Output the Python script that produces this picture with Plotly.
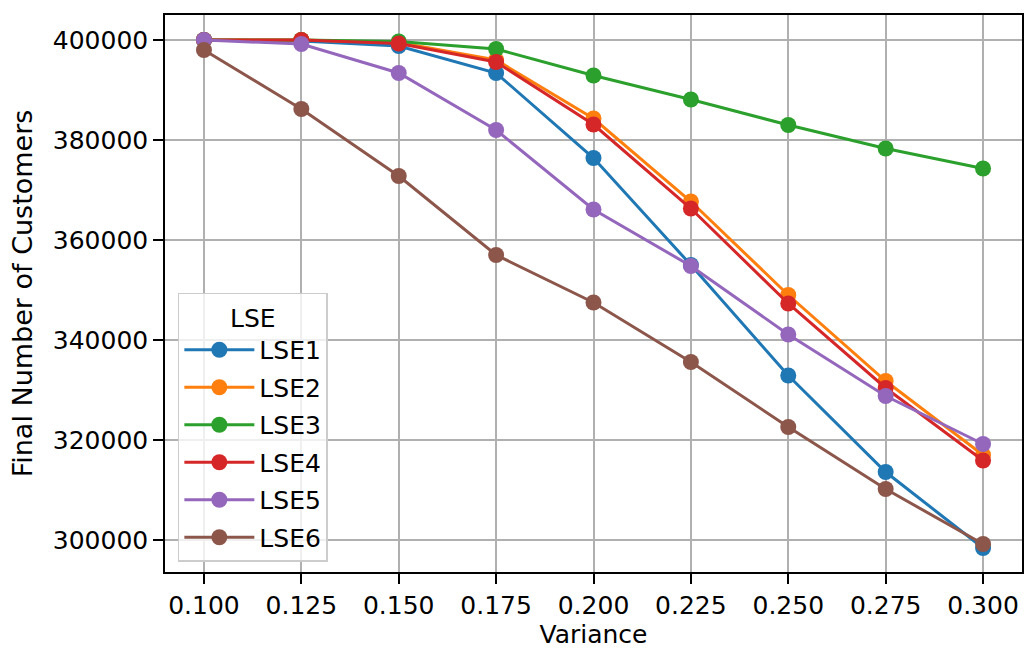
import plotly.graph_objects as go

variance = [0.100, 0.125, 0.150, 0.175, 0.200, 0.225, 0.250, 0.275, 0.300]

lse1 = [400000, 399800, 398800, 393400, 376400, 355000, 332900, 313600, 298400]
lse2 = [400000, 400000, 399500, 396000, 384300, 367700, 349000, 331800, 317000]
lse3 = [400000, 400000, 399700, 398200, 392900, 388100, 383000, 378300, 374300]
lse4 = [400000, 400000, 399300, 395600, 383100, 366300, 347300, 330400, 315900]
lse5 = [400000, 399200, 393400, 382000, 366100, 354800, 341100, 328800, 319200]
lse6 = [398000, 386200, 372800, 357000, 347500, 335600, 322600, 310200, 299200]

series = {
    "LSE1": (lse1, "#1f77b4"),
    "LSE2": (lse2, "#ff7f0e"),
    "LSE3": (lse3, "#2ca02c"),
    "LSE4": (lse4, "#d62728"),
    "LSE5": (lse5, "#9467bd"),
    "LSE6": (lse6, "#8c564b"),
}

fig = go.Figure()
for name, (vals, color) in series.items():
    fig.add_trace(go.Scatter(
        x=variance, y=vals, name=name, legendgroup=name, mode="lines+markers",
        line=dict(color=color, width=3),
        marker=dict(color=color, size=16),
    ))

font = "DejaVu Sans, sans-serif"
fs = 25
axis_common = dict(
    showline=True, linecolor="black", linewidth=1.5, mirror=True,
    ticks="outside", ticklen=10, tickwidth=1.5, tickcolor="black",
    showgrid=True, gridcolor="#b0b0b0", gridwidth=1.5,
    zeroline=False, tickfont=dict(family=font, size=fs, color="black"),
)

fig.update_layout(
    width=1026, height=651,
    margin=dict(l=165, r=2, t=15, b=79),
    plot_bgcolor="white", paper_bgcolor="white",
    font=dict(family=font, color="black"),
    xaxis=dict(
        range=[0.09, 0.31], tickvals=variance,
        ticktext=[f"{v:.3f}" for v in variance],
        title=dict(text="Variance", font=dict(family=font, size=fs), standoff=2),
        **axis_common,
    ),
    yaxis=dict(
        range=[293600, 405000], tickvals=[300000, 320000, 340000, 360000, 380000, 400000],
        tickformat="d",
        title=dict(text="Final Number of Customers", font=dict(family=font, size=27), standoff=12),
        **axis_common,
    ),
    legend=dict(
        title=dict(text="LSE", side="top center", font=dict(family=font, size=fs)),
        x=0.015, y=0.018, xanchor="left", yanchor="bottom",
        bgcolor="rgba(255,255,255,0.8)", bordercolor="#cccccc", borderwidth=1.5,
        font=dict(family=font, size=fs), itemwidth=70, tracegroupgap=2,
    ),
)

fig.write_html("out.html")
